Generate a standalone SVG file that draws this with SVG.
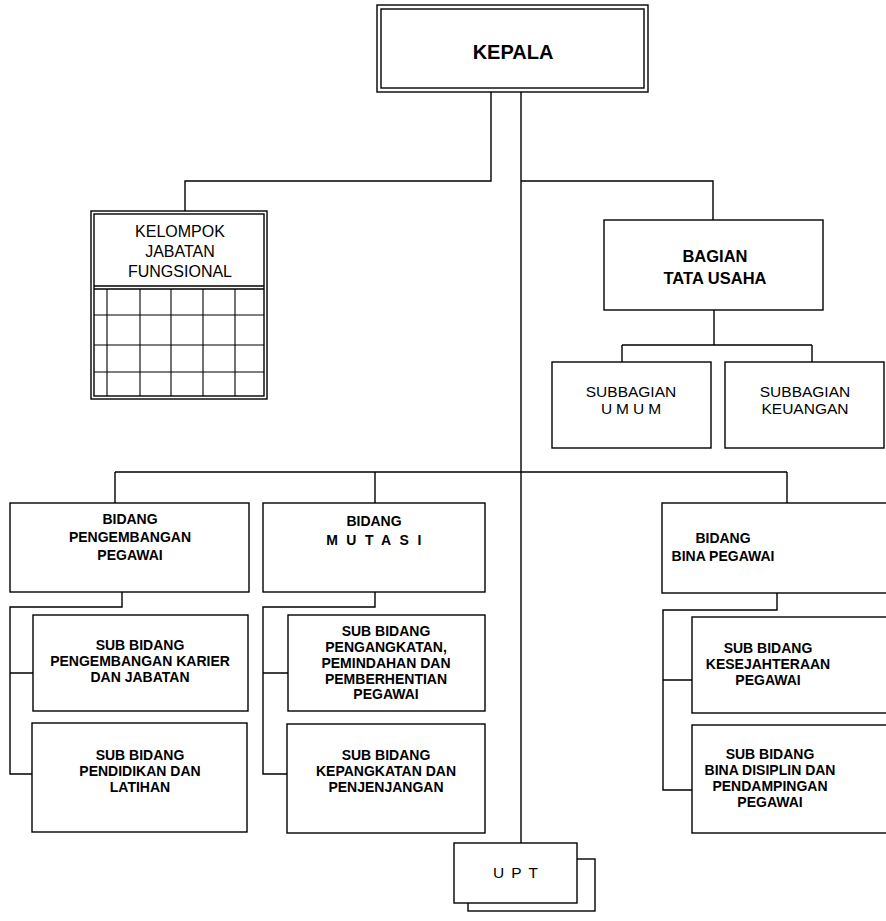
<svg xmlns="http://www.w3.org/2000/svg" width="886" height="921" viewBox="0 0 886 921">
<style>
.box{fill:#fff;stroke:#000;stroke-width:1.4}
.ln{fill:none;stroke:#000;stroke-width:1.4}
.grid{fill:none;stroke:#000;stroke-width:1.1}
text{font-family:"Liberation Sans",Arial,sans-serif;fill:#000;text-anchor:middle}
.b{font-weight:bold}
.t14{font-size:14px}
.t15{font-size:15.5px}
</style>
<rect width="886" height="921" fill="#fff"/>
<g id="connectors">
<path class="ln" d="M491,92 V181 H185 V211"/>
<path class="ln" d="M521,92 V843"/>
<path class="ln" d="M521,181 H713 V220"/>
<path class="ln" d="M714,310 V345 M622,345 H812 M622,345 V362 M812,345 V362"/>
<path class="ln" d="M115,472 H787 M115,472 V503 M375,472 V503 M787,472 V503"/>
<path class="ln" d="M122,592 V607 H10 V774 H33 M10,673 H33"/>
<path class="ln" d="M375,592 V607 H263 V774 H288 M263,673 H288"/>
<path class="ln" d="M777,593 V610 H663 V790 H692 M663,680 H692"/>
</g>
<g id="kepala">
<rect class="box" x="377" y="5" width="271" height="87"/>
<rect class="ln" x="381" y="9" width="263" height="79"/>
<text class="b" x="513" y="59" font-size="20">KEPALA</text>
</g>
<g id="kelompok">
<rect class="box" x="91" y="211" width="176" height="188"/>
<rect class="ln" x="94" y="214" width="170" height="182"/>
<path class="ln" d="M94,286 H264 M94,289 H264"/>
<path class="grid" d="M94,315 H264 M94,345 H264 M94,372 H264 M107,289 V396 M140,289 V396 M171,289 V396 M203,289 V396 M235,289 V396"/>
<text x="180" y="237" font-size="16">KELOMPOK</text>
<text x="180" y="257" font-size="16">JABATAN</text>
<text x="180" y="277" font-size="16">FUNGSIONAL</text>
</g>
<g id="bagian">
<rect class="box" x="604" y="220" width="219" height="90"/>
<text class="b" x="715" y="262" font-size="16.5">BAGIAN</text>
<text class="b" x="715" y="284" font-size="16.5">TATA USAHA</text>
</g>
<g id="sub-umum">
<rect class="box" x="552" y="362" width="159" height="86"/>
<text class="t15" x="631" y="397">SUBBAGIAN</text>
<text class="t15" x="633" y="414" letter-spacing="4">UMUM</text>
</g>
<g id="sub-keuangan">
<rect class="box" x="725" y="362" width="159" height="86"/>
<text class="t15" x="805" y="397">SUBBAGIAN</text>
<text class="t15" x="805" y="414">KEUANGAN</text>
</g>
<g id="bidang-pengembangan">
<rect class="box" x="10" y="503" width="239" height="89"/>
<text class="b t14" x="130" y="524">BIDANG</text>
<text class="b t14" x="130" y="542">PENGEMBANGAN</text>
<text class="b t14" x="130" y="560">PEGAWAI</text>
</g>
<g id="bidang-mutasi">
<rect class="box" x="263" y="503" width="222" height="89"/>
<text class="b t14" x="374" y="526">BIDANG</text>
<text class="b t14" x="378" y="545" letter-spacing="8.5">MUTASI</text>
</g>
<g id="bidang-bina">
<rect class="box" x="662" y="503" width="230" height="90"/>
<text class="b t14" x="723" y="543">BIDANG</text>
<text class="b t14" x="723" y="561">BINA PEGAWAI</text>
</g>
<g id="sub-karier">
<rect class="box" x="33" y="615" width="215" height="96"/>
<text class="b t14" x="140" y="650">SUB BIDANG</text>
<text class="b t14" x="140" y="666">PENGEMBANGAN KARIER</text>
<text class="b t14" x="140" y="682">DAN JABATAN</text>
</g>
<g id="sub-diklat">
<rect class="box" x="32" y="723" width="215" height="109"/>
<text class="b t14" x="140" y="760">SUB BIDANG</text>
<text class="b t14" x="140" y="776">PENDIDIKAN DAN</text>
<text class="b t14" x="140" y="792">LATIHAN</text>
</g>
<g id="sub-pengangkatan">
<rect class="box" x="288" y="615" width="197" height="96"/>
<text class="b t14" x="386" y="636">SUB BIDANG</text>
<text class="b t14" x="386" y="652">PENGANGKATAN,</text>
<text class="b t14" x="386" y="668">PEMINDAHAN DAN</text>
<text class="b t14" x="386" y="684">PEMBERHENTIAN</text>
<text class="b t14" x="386" y="699">PEGAWAI</text>
</g>
<g id="sub-kepangkatan">
<rect class="box" x="287" y="724" width="198" height="109"/>
<text class="b t14" x="386" y="760">SUB BIDANG</text>
<text class="b t14" x="386" y="776">KEPANGKATAN DAN</text>
<text class="b t14" x="386" y="792">PENJENJANGAN</text>
</g>
<g id="sub-kesejahteraan">
<rect class="box" x="692" y="617" width="200" height="96"/>
<text class="b t14" x="768" y="653">SUB BIDANG</text>
<text class="b t14" x="768" y="669">KESEJAHTERAAN</text>
<text class="b t14" x="768" y="685">PEGAWAI</text>
</g>
<g id="sub-disiplin">
<rect class="box" x="692" y="725" width="200" height="108"/>
<text class="b t14" x="770" y="759">SUB BIDANG</text>
<text class="b t14" x="770" y="775">BINA DISIPLIN DAN</text>
<text class="b t14" x="770" y="791">PENDAMPINGAN</text>
<text class="b t14" x="770" y="807">PEGAWAI</text>
</g>
<g id="upt">
<rect class="box" x="468" y="859" width="127" height="52"/>
<rect class="box" x="454" y="843" width="123" height="60"/>
<text x="519" y="878" font-size="15.5" letter-spacing="7">UPT</text>
</g>
</svg>
